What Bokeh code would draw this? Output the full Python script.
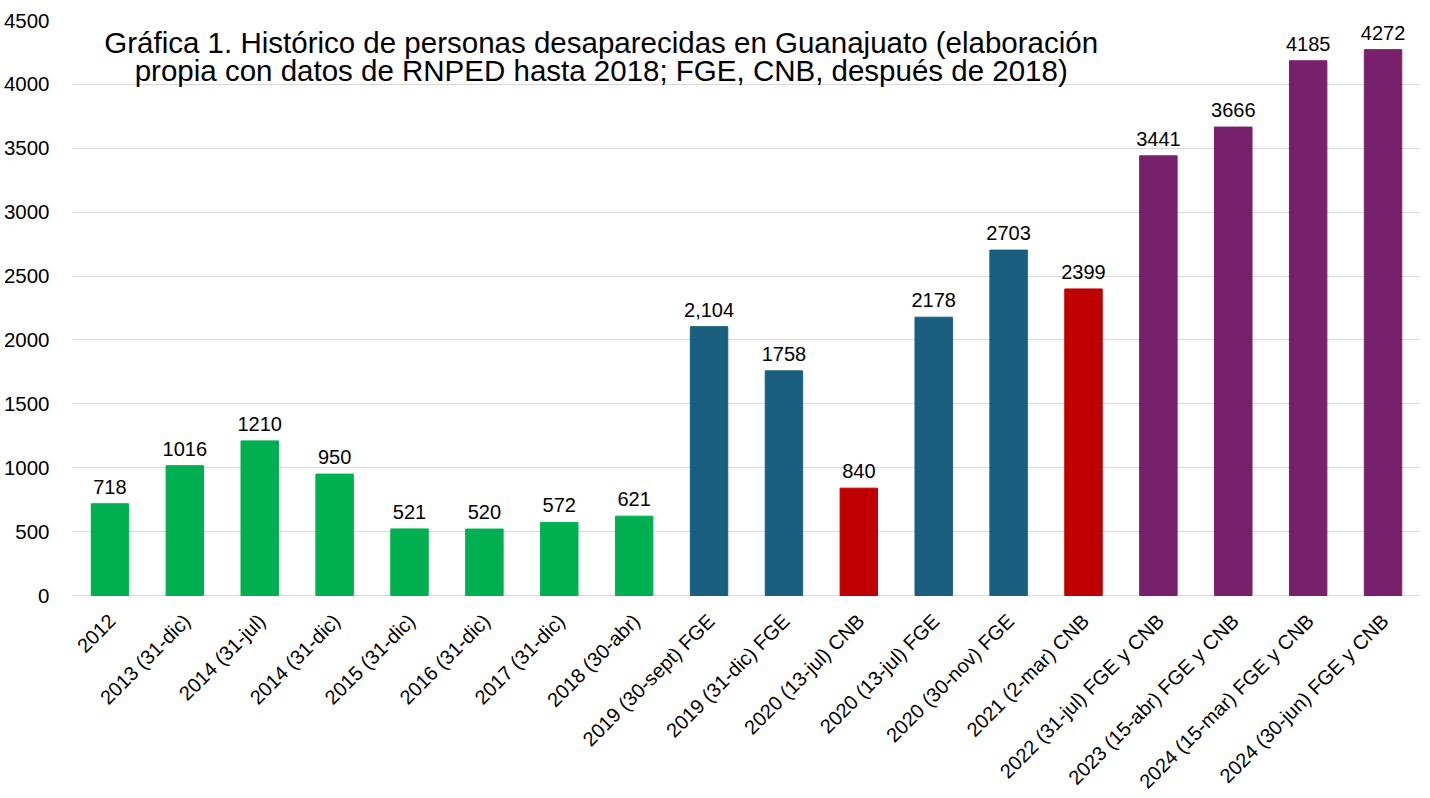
import math
from bokeh.plotting import figure
from bokeh.models import ColumnDataSource, LabelSet, Label, Range1d, FactorRange, FixedTicker
from bokeh.core.properties import value
from bokeh.embed import file_html
from bokeh.resources import INLINE

categories = [
    "2012", "2013 (31-dic)", "2014 (31-jul)", "2014 (31-dic)", "2015 (31-dic)",
    "2016 (31-dic)", "2017 (31-dic)", "2018 (30-abr)", "2019 (30-sept) FGE",
    "2019 (31-dic) FGE", "2020 (13-jul) CNB", "2020 (13-jul) FGE", "2020 (30-nov) FGE",
    "2021 (2-mar) CNB", "2022 (31-jul) FGE y CNB", "2023 (15-abr) FGE y CNB",
    "2024 (15-mar) FGE y CNB", "2024 (30-jun) FGE y CNB",
]
values = [718, 1016, 1210, 950, 521, 520, 572, 621, 2104, 1758, 840, 2178, 2703,
          2399, 3441, 3666, 4185, 4272]
value_labels = ["718", "1016", "1210", "950", "521", "520", "572", "621", "2,104",
                "1758", "840", "2178", "2703", "2399", "3441", "3666", "4185", "4272"]
GREEN, BLUE, RED, PURPLE = "#00B050", "#1A5E80", "#C00000", "#78206C"
colors = [GREEN] * 8 + [BLUE, BLUE, RED, BLUE, BLUE, RED] + [PURPLE] * 4
y_ticks = [0, 500, 1000, 1500, 2000, 2500, 3000, 3500, 4000, 4500]
title_lines = [
    "Gráfica 1. Histórico de personas desaparecidas en Guanajuato (elaboración",
    "propia con datos de RNPED hasta 2018; FGE, CNB, después de 2018)",
]

FONT = "Liberation Sans"

# layout (pixels)
W, H = 1424, 798
TOP, LEFT, RIGHT = 20, 72, 4
PLOT_PX = 575            # pixel height of the 0..4500 value band
YMAX = 4500
frame_h = H - TOP
ymin = -YMAX * (frame_h - PLOT_PX) / PLOT_PX   # room below 0 for the category labels

source = ColumnDataSource(dict(cat=categories, val=values, lab=value_labels,
                               color=colors, zero=[0] * len(categories)))

p = figure(
    x_range=FactorRange(*categories, range_padding=0),
    y_range=Range1d(ymin, YMAX),
    width=W, height=H,
    output_backend="svg", toolbar_location=None,
    x_axis_location=None,
    min_border_left=LEFT, min_border_right=RIGHT, min_border_top=TOP, min_border_bottom=0,
)
p.outline_line_color = None
p.background_fill_color = "white"
p.border_fill_color = "white"

p.vbar(x="cat", top="val", width=0.5, color="color", source=source)

# value labels above bars
p.add_layout(LabelSet(x="cat", y="val", text="lab", source=source,
                      text_align="center", text_baseline="alphabetic", y_offset=10,
                      text_font=value(FONT), text_font_size="20px", text_color="#000000"))

# rotated category labels below the zero line
p.add_layout(LabelSet(x="cat", y="zero", text="cat", source=source,
                      angle=math.pi / 4, text_align="right", text_baseline="middle",
                      x_offset=2, y_offset=-22,
                      text_font=value(FONT), text_font_size="20px", text_color="#000000"))

# title overlaid in the plot area
p.add_layout(Label(x=7.06, y=4328, text=title_lines[0], text_align="center",
                   text_baseline="alphabetic", text_font=FONT, text_font_size="29.5px",
                   text_color="#000000"))
p.add_layout(Label(x=7.06, y=4112, text=title_lines[1], text_align="center",
                   text_baseline="alphabetic", text_font=FONT, text_font_size="29.5px",
                   text_color="#000000"))

p.xgrid.grid_line_color = None
p.ygrid.grid_line_color = "#D9D9D9"
p.ygrid.grid_line_width = 1

p.yaxis.ticker = FixedTicker(ticks=y_ticks)
p.yaxis.axis_line_color = None
p.yaxis.major_tick_line_color = None
p.yaxis.minor_tick_line_color = None
p.yaxis.major_label_text_font = FONT
p.yaxis.major_label_text_font_size = "20.5px"
p.yaxis.major_label_text_color = "#000000"
p.yaxis.major_label_standoff = 17

open("out.html", "w").write(file_html(p, INLINE))
